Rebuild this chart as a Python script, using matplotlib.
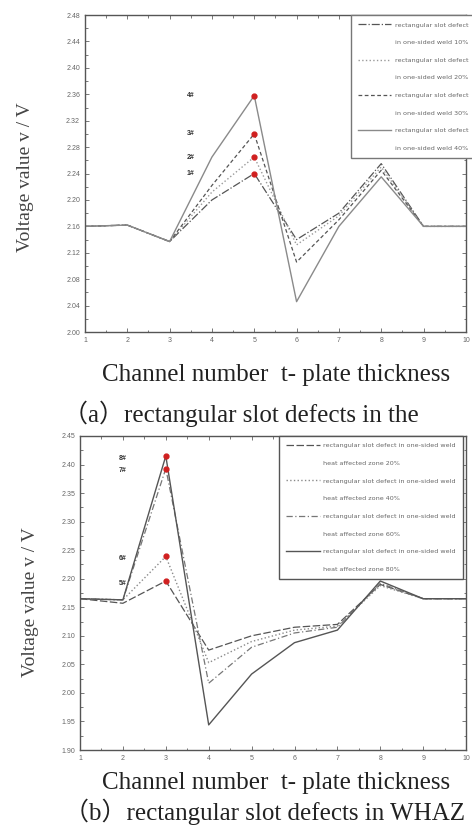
import matplotlib
matplotlib.use("Agg")
import matplotlib.pyplot as plt
from matplotlib.lines import Line2D
from matplotlib.ticker import MultipleLocator, FormatStrFormatter

# ---------------- data ----------------
channels = [1, 2, 3, 4, 5, 6, 7, 8, 9, 10]

# (a) rectangular slot defects in the one-sided weld
a_labels = ["1#", "2#", "3#", "4#"]
a_pct = ["10%", "20%", "30%", "40%"]
a_1 = [2.160, 2.162, 2.137, 2.200, 2.240, 2.140, 2.180, 2.255, 2.160, 2.160]
a_2 = [2.160, 2.162, 2.137, 2.212, 2.265, 2.132, 2.176, 2.250, 2.160, 2.160]
a_3 = [2.160, 2.162, 2.137, 2.222, 2.300, 2.106, 2.170, 2.245, 2.160, 2.160]
a_4 = [2.160, 2.162, 2.137, 2.265, 2.358, 2.046, 2.160, 2.235, 2.160, 2.160]

# (b) rectangular slot defects in WHAZ
b_labels = ["5#", "6#", "7#", "8#"]
b_pct = ["20%", "40%", "60%", "80%"]
b_5 = [2.165, 2.157, 2.196, 2.075, 2.100, 2.115, 2.120, 2.190, 2.165, 2.165]
b_6 = [2.165, 2.163, 2.239, 2.053, 2.090, 2.110, 2.117, 2.188, 2.165, 2.165]
b_7 = [2.165, 2.163, 2.393, 2.017, 2.080, 2.105, 2.115, 2.192, 2.165, 2.165]
b_8 = [2.165, 2.163, 2.415, 1.944, 2.033, 2.088, 2.110, 2.196, 2.165, 2.165]

serif = ["Liberation Serif", "Noto Sans CJK SC", "DejaVu Serif"]
sans = ["Liberation Sans", "DejaVu Sans"]

fig = plt.figure(figsize=(4.72, 8.27), dpi=100)

def style_axes(ax, ylo, yhi, ymaj, ymin):
    ax.set_xlim(1, 10)
    ax.set_ylim(ylo, yhi)
    ax.xaxis.set_major_locator(MultipleLocator(1))
    ax.xaxis.set_minor_locator(MultipleLocator(0.5))
    ax.yaxis.set_major_locator(MultipleLocator(ymaj))
    ax.yaxis.set_minor_locator(MultipleLocator(ymin))
    ax.yaxis.set_major_formatter(FormatStrFormatter("%.2f"))
    ax.tick_params(which="both", direction="in", top=True, right=True,
                   colors="#777777", labelsize=5, length=3, width=0.7)
    ax.tick_params(which="minor", length=1.8)
    for lab in ax.get_xticklabels() + ax.get_yticklabels():
        lab.set_family(sans)
        lab.set_color("#666666")
    for s in ax.spines.values():
        s.set_color("#555555")
        s.set_linewidth(1.0)

LEGKW = dict(fontsize=4.6, labelspacing=1.9, handlelength=5.2,
             handletextpad=0.6, borderpad=1.1, borderaxespad=0.0,
             frameon=True, fancybox=False, framealpha=1)

# ---------- panel (a) ----------
axa = fig.add_axes([0.180, 0.5985, 0.807, 0.3833])
a_series = [a_1, a_2, a_3, a_4]
a_styles = [dict(ls="-.", color="#555555", lw=0.9),
            dict(ls=":", color="#9a9a9a", lw=1.0),
            dict(ls=(0, (3, 2)), color="#555555", lw=0.9),
            dict(ls="-", color="#8a8a8a", lw=1.0)]
handles = []
labels = []
for vals, st, pct in zip(a_series, a_styles, a_pct):
    axa.plot(channels, vals, **st)
    handles.append(Line2D([], [], **st))
    labels.append("rectangular slot defect")
    handles.append(Line2D([], [], color="none"))
    labels.append("in one-sided weld " + pct)
pk = channels.index(5)
for vals, lab in zip(a_series, a_labels):
    axa.plot(channels[pk], vals[pk], "o", color="#d02020", ms=3.5, zorder=5)
    axa.text(3.5, vals[pk], lab, fontsize=5, fontweight="bold", color="#333333",
             ha="center", va="center", family=sans)
style_axes(axa, 2.00, 2.48, 0.04, 0.02)
leg = axa.legend(handles, labels, loc="upper right", bbox_to_anchor=(1.025, 1.0),
                 edgecolor="#777777", **LEGKW)
for t in leg.get_texts():
    t.set_color("#666666")
axa.set_ylabel("Voltage value v / V", family=serif, fontsize=14, color="#444444")
axa.yaxis.set_label_coords(-0.134, 0.49)
fig.text(0.585, 0.546, "Channel number  t- plate thickness", family=serif,
         fontsize=18, ha="center", va="center", color="#222222")
fig.text(0.51, 0.500, "\uff08a\uff09rectangular slot defects in the",
         family=serif, fontsize=18, ha="center", va="center", color="#222222")

# ---------- panel (b) ----------
axb = fig.add_axes([0.1695, 0.0931, 0.818, 0.3797])
b_series = [b_5, b_6, b_7, b_8]
b_styles = [dict(ls=(0, (6, 2)), color="#555555", lw=0.9),
            dict(ls=":", color="#8a8a8a", lw=1.0),
            dict(ls=(0, (5, 2, 1, 2)), color="#777777", lw=0.9),
            dict(ls="-", color="#555555", lw=1.0)]
handles = []
labels = []
for vals, st, pct in zip(b_series, b_styles, b_pct):
    axb.plot(channels, vals, **st)
    handles.append(Line2D([], [], **st))
    labels.append("rectangular slot defect in one-sided weld")
    handles.append(Line2D([], [], color="none"))
    labels.append("heat affected zone " + pct)
pk = channels.index(3)
for vals, lab in zip(b_series, b_labels):
    axb.plot(channels[pk], vals[pk], "o", color="#d02020", ms=3.5, zorder=5)
    axb.text(2.0, vals[pk] - 0.004, lab, fontsize=5, fontweight="bold",
             color="#333333", ha="center", va="center", family=sans)
style_axes(axb, 1.90, 2.45, 0.05, 0.025)
leg = axb.legend(handles, labels, loc="upper right", bbox_to_anchor=(0.992, 1.0),
                 edgecolor="#555555", **LEGKW)
for t in leg.get_texts():
    t.set_color("#666666")
axb.set_ylabel("Voltage value v / V", family=serif, fontsize=14, color="#444444")
axb.yaxis.set_label_coords(-0.107, 0.47)
fig.text(0.585, 0.053, "Channel number  t- plate thickness", family=serif,
         fontsize=18, ha="center", va="center", color="#222222")
fig.text(0.56, 0.018, "\uff08b\uff09rectangular slot defects in WHAZ",
         family=serif, fontsize=18, ha="center", va="center", color="#222222")

fig.savefig("out.png", dpi=100)
